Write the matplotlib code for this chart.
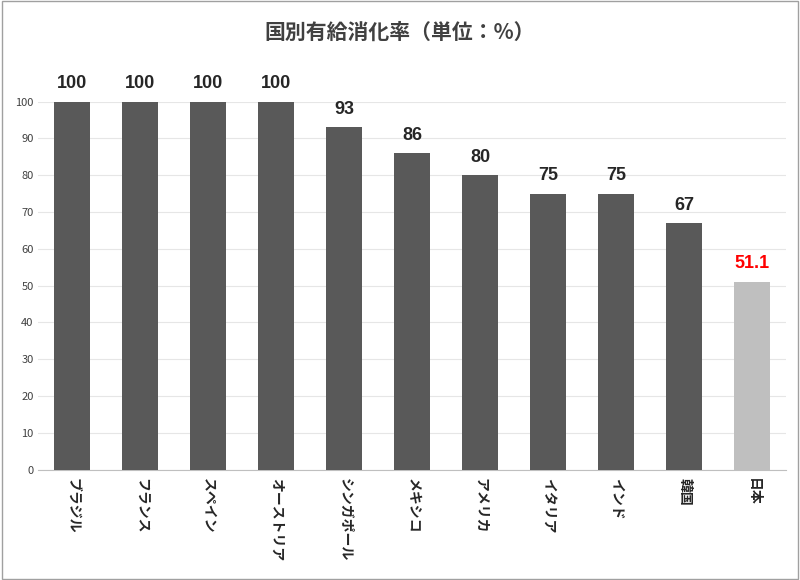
import matplotlib
matplotlib.use("Agg")
import matplotlib.pyplot as plt
from matplotlib.patches import Rectangle

plt.rcParams['font.family'] = ['Noto Sans CJK JP', 'DejaVu Sans']

categories = ["ブラジル", "フランス", "スペイン", "オーストリア", "シンガポール", "メキシコ", "アメリカ", "イタリア", "インド", "韓国", "日本"]
values = [100, 100, 100, 100, 93, 86, 80, 75, 75, 67, 51.1]
labels = ["100", "100", "100", "100", "93", "86", "80", "75", "75", "67", "51.1"]
colors = ["#595959"] * 10 + ["#bfbfbf"]
label_colors = ["#262626"] * 10 + ["#ff0000"]

fig = plt.figure(figsize=(8, 5.8), dpi=100)
ax = fig.add_axes([0.048, 0.19, 0.935, 0.635])
x = range(len(categories))
ax.bar(x, values, width=0.53, color=colors, zorder=3)
for i, (v, l) in enumerate(zip(values, labels)):
    ax.text(i, v + 2.5, l, ha='center', va='bottom', fontsize=13, fontweight='bold',
            color=label_colors[i], family=['Liberation Sans', 'DejaVu Sans'])
ax.set_ylim(0, 100)
ax.set_xlim(-0.5, len(categories) - 0.5)
ax.set_yticks(range(0, 101, 10))
ax.tick_params(axis='y', labelsize=8, length=0, colors='#404040')
ax.tick_params(axis='x', length=0, pad=6)
ax.set_xticks(list(x))
ax.set_xticklabels(categories, rotation=-90, fontsize=10, color='#262626', va='top', fontweight='bold')
ax.grid(axis='y', color='#e6e6e6', lw=0.8, zorder=0)
for s in ['top', 'right', 'left']:
    ax.spines[s].set_visible(False)
ax.spines['bottom'].set_color('#bfbfbf')
fig.text(0.5, 0.945, "国別有給消化率（単位：%）", ha='center', va='center', fontsize=15, fontweight='bold', color='#404040')
fig.patches.append(Rectangle((0.002, 0.002), 0.996, 0.996, transform=fig.transFigure, fill=False, edgecolor='#a0a0a0', lw=1))
fig.savefig("out.png", dpi=100)
